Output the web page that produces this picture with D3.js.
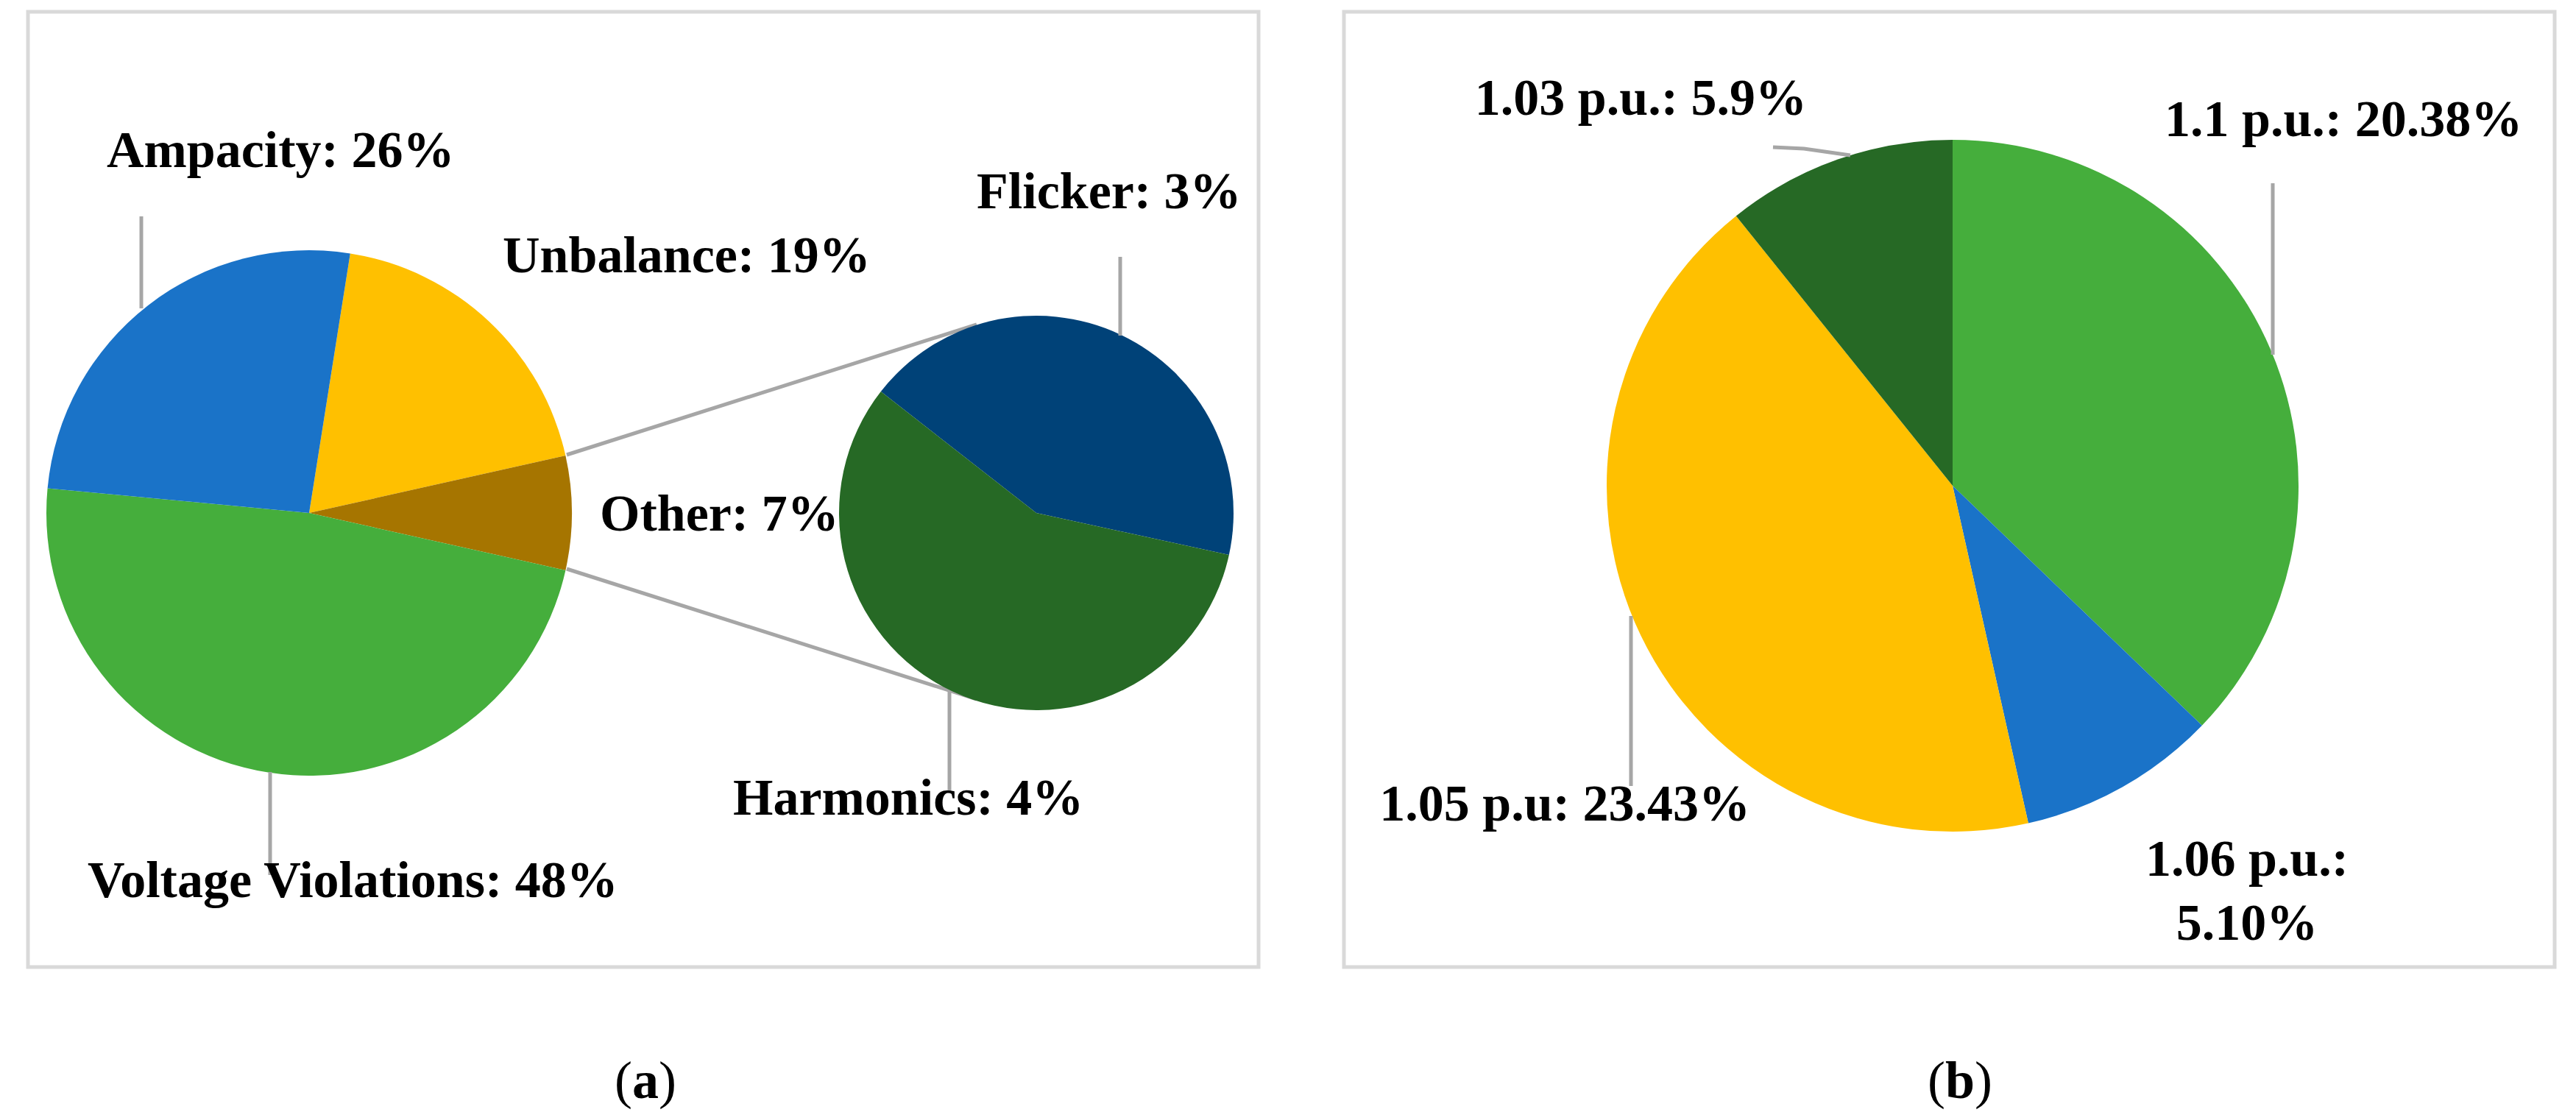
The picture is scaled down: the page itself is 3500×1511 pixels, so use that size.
<!DOCTYPE html>
<html>
<head>
<meta charset="utf-8">
<script src="https://cdn.jsdelivr.net/npm/d3@7"></script>
<style>
  body { margin: 0; background: #fff; }
  text { font-family: "Liberation Serif", "DejaVu Serif", serif; font-weight: bold; fill: #000; }
</style>
</head>
<body>
<div id="chart"></div>
<script>
// panel (a): main pie, clockwise from top
const mainCats = ["Unbalance", "Other", "Voltage Violations", "Ampacity"];
const mainVals = [19, 7, 48, 26];
const mainColors = ["#FFC000", "#A67500", "#45AE3C", "#1A73C8"];
// panel (a): breakdown of "Other"
const subCats = ["Flicker", "Harmonics"];
const subVals = [3, 4];
const subColors = ["#004278", "#266925"];
// panel (b)
const bCats = ["1.1 p.u.", "1.06 p.u.", "1.05 p.u", "1.03 p.u."];
const bVals = [20.38, 5.10, 23.43, 5.9];
const bColors = ["#45AE3C", "#1A73C8", "#FFC000", "#266925"];

const width = 3500, height = 1511;
const svg = d3.select("#chart").append("svg")
    .attr("width", width)
    .attr("height", height);

// panel borders
svg.append("rect").attr("x", 38).attr("y", 16).attr("width", 1672).attr("height", 1298)
    .attr("fill", "none").attr("stroke", "#d9d9d9").attr("stroke-width", 5);
svg.append("rect").attr("x", 1826).attr("y", 16).attr("width", 1645).attr("height", 1298)
    .attr("fill", "none").attr("stroke", "#d9d9d9").attr("stroke-width", 5);

// draws a pie from values
const drawPie = (cx, cy, r, vals, colors, start) => {
    const pie = d3.pie().sort(null).startAngle(start).endAngle(start + 2 * Math.PI);
    const arc = d3.arc().innerRadius(0).outerRadius(r);
    svg.append("g")
        .attr("transform", `translate(${cx},${cy})`)
        .selectAll("path")
        .data(pie(vals))
        .enter()
        .append("path")
        .attr("d", arc)
        .attr("fill", (d, i) => colors[i]);
};

const line = (pts) => {
    svg.append("path")
        .attr("d", d3.line()(pts))
        .attr("fill", "none")
        .attr("stroke", "#a6a6a6")
        .attr("stroke-width", 5);
};

const label = (x, y, txt, anchor = "start", size = 70) => {
    svg.append("text")
        .attr("x", x).attr("y", y)
        .attr("font-size", size)
        .attr("text-anchor", anchor)
        .text(txt);
};

// ---- panel (a)
line([[770, 618], [1327, 441]]);
line([[770, 773], [1327, 950]]);
drawPie(420, 697, 357, mainVals, mainColors, 0.025 * 2 * Math.PI);
drawPie(1408, 697, 268, subVals, subColors, -52 * Math.PI / 180);

line([[192, 294], [192, 419]]);
line([[367, 1049], [367, 1189]]);
line([[1522, 349], [1522, 456]]);
line([[1290, 939], [1290, 1075]]);

label(145, 227, `${mainCats[3]}: ${mainVals[3]}%`);
label(683, 370, `${mainCats[0]}: ${mainVals[0]}%`);
label(815, 721, `${mainCats[1]}: ${mainVals[1]}%`);
label(119, 1219, `${mainCats[2]}: ${mainVals[2]}%`);
label(1327, 283, `${subCats[0]}: ${subVals[0]}%`);
label(996, 1107, `${subCats[1]}: ${subVals[1]}%`);

// ---- panel (b)
drawPie(2653, 660, 470, bVals, bColors, 0);

line([[2409, 200], [2451, 202], [2514, 211]]);
line([[3088, 249], [3088, 482]]);
line([[2216, 837], [2216, 1068]]);

label(2455, 156, `${bCats[3]}: ${bVals[3]}%`, "end");
label(2941, 185, `${bCats[0]}: ${bVals[0].toFixed(2)}%`);
label(2378, 1115, `${bCats[2]}: ${bVals[2].toFixed(2)}%`, "end");
label(3053, 1190, `${bCats[1]}:`, "middle");
label(3053, 1277, `${bVals[1].toFixed(2)}%`, "middle");

// captions
const caption = (x, letter) => {
    const t = svg.append("text").attr("x", x).attr("y", 1492)
        .attr("font-size", 72).attr("text-anchor", "middle")
        .style("font-weight", "normal");
    t.append("tspan").text("(");
    t.append("tspan").style("font-weight", "bold").text(letter);
    t.append("tspan").text(")");
};
caption(877, "a");
caption(2663, "b");
</script>
</body>
</html>
